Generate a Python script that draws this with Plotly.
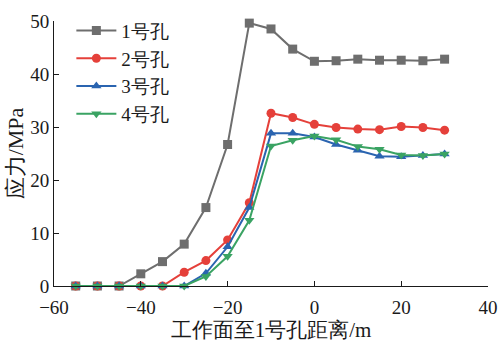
import plotly.graph_objects as go

x = [-55, -50, -45, -40, -35, -30, -25, -20, -15, -10, -5, 0, 5, 10, 15, 20, 25, 30]
hole1 = [0, 0, 0, 2.3, 4.6, 7.9, 14.8, 26.7, 49.6, 48.5, 44.7, 42.4, 42.5, 42.8, 42.6, 42.6, 42.5, 42.8]
hole2 = [0, 0, 0, 0, 0, 2.6, 4.8, 8.7, 15.7, 32.6, 31.8, 30.5, 29.9, 29.6, 29.5, 30.1, 29.9, 29.4]
hole3 = [0, 0, 0, 0, 0, 0, 2.4, 7.4, 14.8, 28.8, 28.8, 28.1, 26.7, 25.6, 24.5, 24.4, 24.6, 24.9]
hole4 = [0, 0, 0, 0, 0, 0, 1.8, 5.6, 12.4, 26.4, 27.5, 28.3, 27.6, 26.3, 25.8, 24.7, 24.6, 24.9]

names = ["1号孔", "2号孔", "3号孔", "4号孔"]
colors = ["#6e6e6e", "#e5403a", "#2a64b0", "#3aa363"]
symbols = ["square", "circle", "triangle-up", "triangle-down"]

fig = go.Figure()
for ys, n, c, s in zip([hole1, hole2, hole3, hole4], names, colors, symbols):
    fig.add_trace(go.Scatter(x=x, y=ys, name=n, mode="lines+markers",
                             line=dict(color=c, width=2), cliponaxis=False,
                             marker=dict(symbol=s, size=9, color=c)))

font = "Liberation Serif"
fig.update_layout(
    width=500, height=347,
    margin=dict(l=54, r=12, t=12, b=61),
    plot_bgcolor="white", paper_bgcolor="white",
    font=dict(family=font, size=19, color="#1a1a1a"),
    showlegend=True,
    legend=dict(x=0.04, y=1.035, xanchor="left", yanchor="top",
                bgcolor="rgba(0,0,0,0)", font=dict(size=19),
                itemwidth=40, tracegroupgap=0),
    xaxis=dict(range=[-60, 40], tickvals=[-60, -40, -20, 0, 20, 40],
               ticktext=["−60", "−40", "−20", "0", "20", "40"],
               showline=True, linecolor="#1a1a1a", linewidth=1,
               ticks="inside", ticklen=5, tickcolor="#1a1a1a",
               ticklabelstandoff=4, automargin=False,
               showgrid=False, zeroline=False,
               title=dict(text="工作面至1号孔距离/m", font=dict(size=21), standoff=4)),
    yaxis=dict(range=[0, 50], tickvals=[0, 10, 20, 30, 40, 50],
               showline=True, linecolor="#1a1a1a", linewidth=1,
               ticks="inside", ticklen=5, tickcolor="#1a1a1a",
               automargin=False,
               showgrid=False, zeroline=False,
               title=dict(text="应力/MPa", font=dict(size=22), standoff=0)),
)
fig.write_html("out.html")
